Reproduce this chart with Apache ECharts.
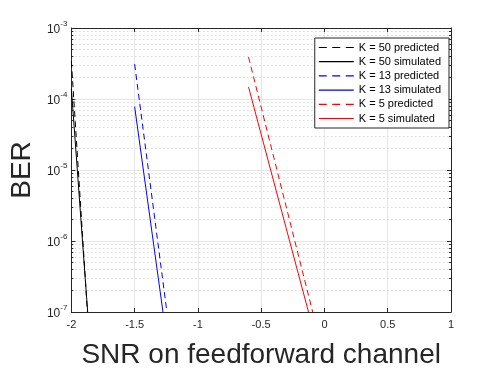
<!DOCTYPE html>
<html>
<head>
<meta charset="utf-8">
<script src="https://cdn.jsdelivr.net/npm/echarts@6/dist/echarts.min.js"></script>
<style>
  html, body { margin: 0; padding: 0; background: #fff; }
</style>
</head>
<body>
<div id="ber" style="width: 498px; height: 374px"></div>
<script>
// curves (SNR, BER)
var snr50Pred = [-2, -1.873];
var ber50Pred = [3.4e-4, 1e-7];
var snr50Sim = [-2, -1.871];
var ber50Sim = [1.4e-4, 1e-7];
var snr13Pred = [-1.5, -1.245];
var ber13Pred = [3.1e-4, 1e-7];
var snr13Sim = [-1.5, -1.276];
var ber13Sim = [7.8e-5, 1e-7];
var snr5Pred = [-0.6, -0.093];
var ber5Pred = [3.9e-4, 1e-7];
var snr5Sim = [-0.6, -0.126];
var ber5Sim = [1.48e-4, 1e-7];

var yDecades = [1e-7, 1e-6, 1e-5, 1e-4, 1e-3];
var yMinor = [];
for (var d = 0; d < yDecades.length - 1; d++) {
  for (var k = 2; k <= 9; k++) {
    yMinor.push(k * yDecades[d]);
  }
}

var font = "Liberation Sans, Arial, Helvetica, sans-serif";
var axisColor = "#262626";

// legend swatches (matlab style: plain line / three dashes)
var solidIcon = "path://M0,0h35v1.2h-35z";
var dashIcon = "path://M0,0h8v1.2h-8z M13.5,0h8v1.2h-8z M27,0h8v1.2h-8z";

function pairs(xs, ys) {
  var out = [];
  for (var i = 0; i < xs.length; i++) out.push([xs[i], ys[i]]);
  return out;
}

var curves = [
  { name: "K = 50 predicted", x: snr50Pred, y: ber50Pred, color: "#000000", dashed: true },
  { name: "K = 50 simulated", x: snr50Sim, y: ber50Sim, color: "#000000", dashed: false },
  { name: "K = 13 predicted", x: snr13Pred, y: ber13Pred, color: "#0000ff", dashed: true },
  { name: "K = 13 simulated", x: snr13Sim, y: ber13Sim, color: "#0000ff", dashed: false },
  { name: "K = 5 predicted", x: snr5Pred, y: ber5Pred, color: "#ff0000", dashed: true },
  { name: "K = 5 simulated", x: snr5Sim, y: ber5Sim, color: "#ff0000", dashed: false },
];

var myChart = echarts.init(document.getElementById("ber"));

var baseY = {
  type: "log",
  logBase: 10,
  min: 1e-7,
  max: 1e-3,
};

const option = {
  animation: false,
  backgroundColor: "#fff",
  textStyle: { fontFamily: font },
  grid: { left: 66.5, right: 47, top: 28, bottom: 58, containLabel: false },
  legend: {
    orient: "vertical",
    right: 49,
    top: 38,
    z: 20,
    itemWidth: 35,
    itemHeight: 12,
    itemGap: 3.2,
    symbolKeepAspect: true,
    selectedMode: false,
    padding: [4, 8, 4, 4],
    borderColor: axisColor,
    borderWidth: 1,
    backgroundColor: "#fff",
    textStyle: { fontSize: 11, color: "#000", fontFamily: font },
    data: curves.map(function (c) {
      return {
        name: c.name,
        icon: c.dashed ? dashIcon : solidIcon,
        itemStyle: { color: c.color, borderWidth: 0, opacity: 1 },
      };
    }),
  },
  xAxis: [
    {
      type: "value",
      min: -2,
      max: 1,
      interval: 0.5,
      position: "bottom",
      name: "SNR on feedforward channel",
      nameLocation: "middle",
      nameGap: 29,
      nameTextStyle: { fontSize: 28, color: axisColor, fontFamily: font },
      axisLine: { show: true, onZero: false, lineStyle: { color: axisColor, width: 1 } },
      axisTick: { show: true, inside: true, length: 4, lineStyle: { color: axisColor } },
      axisLabel: {
        margin: 7,
        fontSize: 11,
        color: axisColor,
        formatter: function (v) { return String(v); },
      },
      splitLine: { show: true, lineStyle: { color: "#e6e6e6", width: 1 } },
    },
    {
      type: "value",
      min: -2,
      max: 1,
      interval: 0.5,
      position: "top",
      axisLine: { show: true, onZero: false, lineStyle: { color: axisColor, width: 1 } },
      axisTick: { show: true, inside: true, length: 4, lineStyle: { color: axisColor } },
      axisLabel: { show: false },
      splitLine: { show: false },
    },
  ],
  yAxis: [
    Object.assign({}, baseY, {
      position: "left",
      name: "BER",
      nameLocation: "middle",
      nameRotate: 90,
      nameGap: 21,
      nameTextStyle: { fontSize: 28, color: axisColor, fontFamily: font },
      axisLine: { show: true, onZero: false, lineStyle: { color: axisColor, width: 1 } },
      axisTick: { show: true, inside: true, length: 4, lineStyle: { color: axisColor } },
      axisLabel: {
        margin: 4,
        color: axisColor,
        formatter: function (v) {
          var e = Math.round(Math.log10(v));
          return "{b|10}{e|" + e + "}";
        },
        rich: {
          b: { fontSize: 12, color: axisColor, lineHeight: 16, verticalAlign: "bottom", fontFamily: font },
          e: { fontSize: 8, color: axisColor, lineHeight: 16, verticalAlign: "top", fontFamily: font },
        },
      },
      splitLine: { show: true, lineStyle: { color: "#e6e6e6", width: 1 } },
    }),
    Object.assign({}, baseY, {
      position: "left",
      axisLine: { show: false, onZero: false },
      axisTick: { show: true, inside: true, length: 2, customValues: yMinor, lineStyle: { color: axisColor } },
      axisLabel: { show: false },
      splitLine: { show: true, lineStyle: { color: "#c8c8c8", width: 1, type: [1, 3] } },
    }),
    Object.assign({}, baseY, {
      position: "right",
      axisLine: { show: true, onZero: false, lineStyle: { color: axisColor, width: 1 } },
      axisTick: { show: true, inside: true, length: 4, lineStyle: { color: axisColor } },
      axisLabel: { show: false },
      splitLine: { show: false },
    }),
    Object.assign({}, baseY, {
      position: "right",
      axisLine: { show: false, onZero: false },
      axisTick: { show: true, inside: true, length: 2, customValues: yMinor, lineStyle: { color: axisColor } },
      axisLabel: { show: false },
      splitLine: { show: false },
    }),
  ],
  series: curves.map(function (c) {
    return {
      name: c.name,
      type: "line",
      xAxisIndex: 0,
      yAxisIndex: 0,
      data: pairs(c.x, c.y),
      symbol: "none",
      showSymbol: false,
      clip: true,
      color: c.color,
      lineStyle: { color: c.color, width: 1, type: c.dashed ? [6, 4] : "solid" },
      itemStyle: { color: c.color },
      emphasis: { disabled: true },
    };
  }),
};
myChart.setOption(option);
window.onresize = function () {
  myChart.resize();
};
</script>
</body>
</html>
